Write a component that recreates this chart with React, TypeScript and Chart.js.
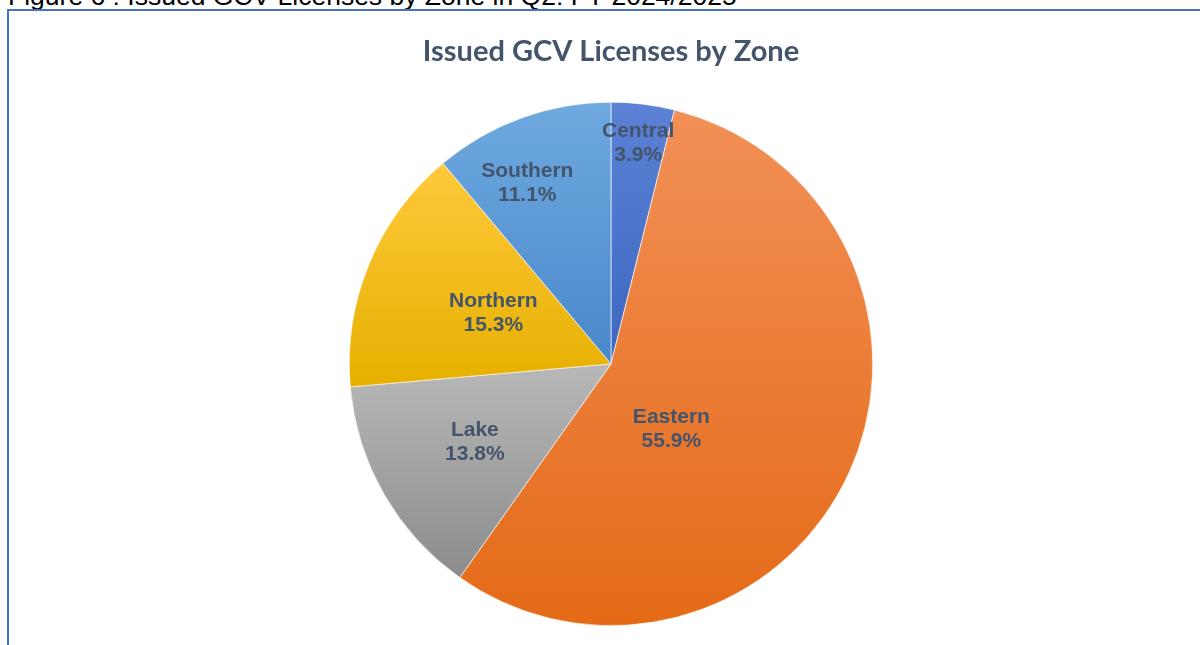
import React, { useEffect, useRef } from "react";
import { Chart, registerables } from "chart.js";

Chart.register(...registerables);

const zones = ["Central", "Eastern", "Lake", "Northern", "Southern"];
const shares = [3.9, 55.9, 13.8, 15.3, 11.1];
const topColors = ["#5B82D5", "#F29057", "#B8B8B8", "#FFC93C", "#6EA9DF"];
const bottomColors = ["#3C66C0", "#E46A17", "#8C8C8C", "#E6B000", "#4A88CB"];
const labelRadius = [0.85, 0.34, 0.6, 0.49, 0.76];
const labelAngleShift = [0, 22.6, 0, 0.9, -4.9];

const chartTitle = "Issued GCV Licenses by Zone";
const caption = "Figure 6 : Issued GCV Licenses by Zone in Q2: FY 2024/2025";

function sliceExtent(i: number, cy: number, r: number) {
  const total = shares.reduce((a, b) => a + b, 0);
  let cum = 0;
  for (let k = 0; k < i; k++) cum += shares[k];
  const a0 = -Math.PI / 2 + (cum / total) * Math.PI * 2;
  const a1 = a0 + (shares[i] / total) * Math.PI * 2;
  const ys = [cy, cy + r * Math.sin(a0), cy + r * Math.sin(a1)];
  const norm = (a: number) => ((a % (2 * Math.PI)) + 2 * Math.PI) % (2 * Math.PI);
  const within = (t: number) => {
    const s = norm(a0);
    const span = a1 - a0;
    const d = norm(t - s);
    return d <= span;
  };
  if (within(-Math.PI / 2)) ys.push(cy - r);
  if (within(Math.PI / 2)) ys.push(cy + r);
  return [Math.min(...ys), Math.max(...ys)];
}

const labelPlugin = {
  id: "sliceLabels",
  afterDatasetsDraw(chart: any) {
    const meta = chart.getDatasetMeta(0);
    const ctx = chart.ctx;
    ctx.save();
    ctx.font = "bold 21px 'Liberation Sans', Arial, sans-serif";
    ctx.fillStyle = "#44546A";
    ctx.textAlign = "center";
    ctx.textBaseline = "middle";
    meta.data.forEach((arc: any, i: number) => {
      const p = arc.getProps(["x", "y", "startAngle", "endAngle", "outerRadius"], true);
      const mid = (p.startAngle + p.endAngle) / 2 + (labelAngleShift[i] * Math.PI) / 180;
      const r = p.outerRadius * labelRadius[i];
      const x = p.x + Math.cos(mid) * r;
      const y = p.y + Math.sin(mid) * r;
      ctx.fillText(zones[i], x, y - 12);
      ctx.fillText(shares[i].toFixed(1) + "%", x, y + 12);
    });
    ctx.restore();
  },
};

export default function App() {
  const ref = useRef<HTMLCanvasElement>(null);
  useEffect(() => {
    if (!ref.current) return;
    const chart = new Chart(ref.current, {
      type: "pie",
      data: {
        labels: zones,
        datasets: [
          {
            data: shares,
            backgroundColor: (c: any) => {
              const i = c.dataIndex;
              const ca = c.chart.chartArea;
              if (!ca || i === undefined) return topColors[i] || "#999";
              const cy = (ca.top + ca.bottom) / 2;
              const r = Math.min(ca.right - ca.left, ca.bottom - ca.top) / 2;
              const [y0, y1] = sliceExtent(i, cy, r);
              const g = c.chart.ctx.createLinearGradient(0, y0, 0, y1);
              g.addColorStop(0, topColors[i]);
              g.addColorStop(1, bottomColors[i]);
              return g;
            },
            borderColor: "rgba(255,255,255,0.85)",
            borderWidth: 0.75,
          },
        ],
      },
      options: {
        responsive: false,
        animation: false,
        layout: { padding: { top: 0, bottom: 19, left: 22, right: 0 } },
        plugins: {
          legend: { display: false },
          tooltip: { enabled: false },
          title: {
            display: true,
            text: chartTitle,
            color: "#44546A",
            font: { family: "Lato, 'Open Sans', sans-serif", size: 29, weight: "bold", lineHeight: 1.2 },
            padding: { top: 34, bottom: 33 },
          },
        },
      },
      plugins: [labelPlugin],
    });
    return () => chart.destroy();
  }, []);

  return (
    <div style={{ position: "fixed", inset: 0, overflow: "hidden", background: "#fff" }}>
      <div
        style={{
          position: "absolute",
          left: 8,
          top: -19,
          font: "26.5px 'Liberation Sans', Arial, sans-serif",
          color: "#000",
          whiteSpace: "nowrap",
        }}
      >
        {caption}
      </div>
      <div
        style={{
          position: "absolute",
          left: 7,
          top: 9,
          width: 1400,
          height: 1000,
          borderTop: "2px solid #4472C4",
          borderLeft: "2px solid #4472C4",
        }}
      />
      <canvas ref={ref} width={1200} height={645} style={{ position: "absolute", left: 0, top: 0 }} />
    </div>
  );
}
